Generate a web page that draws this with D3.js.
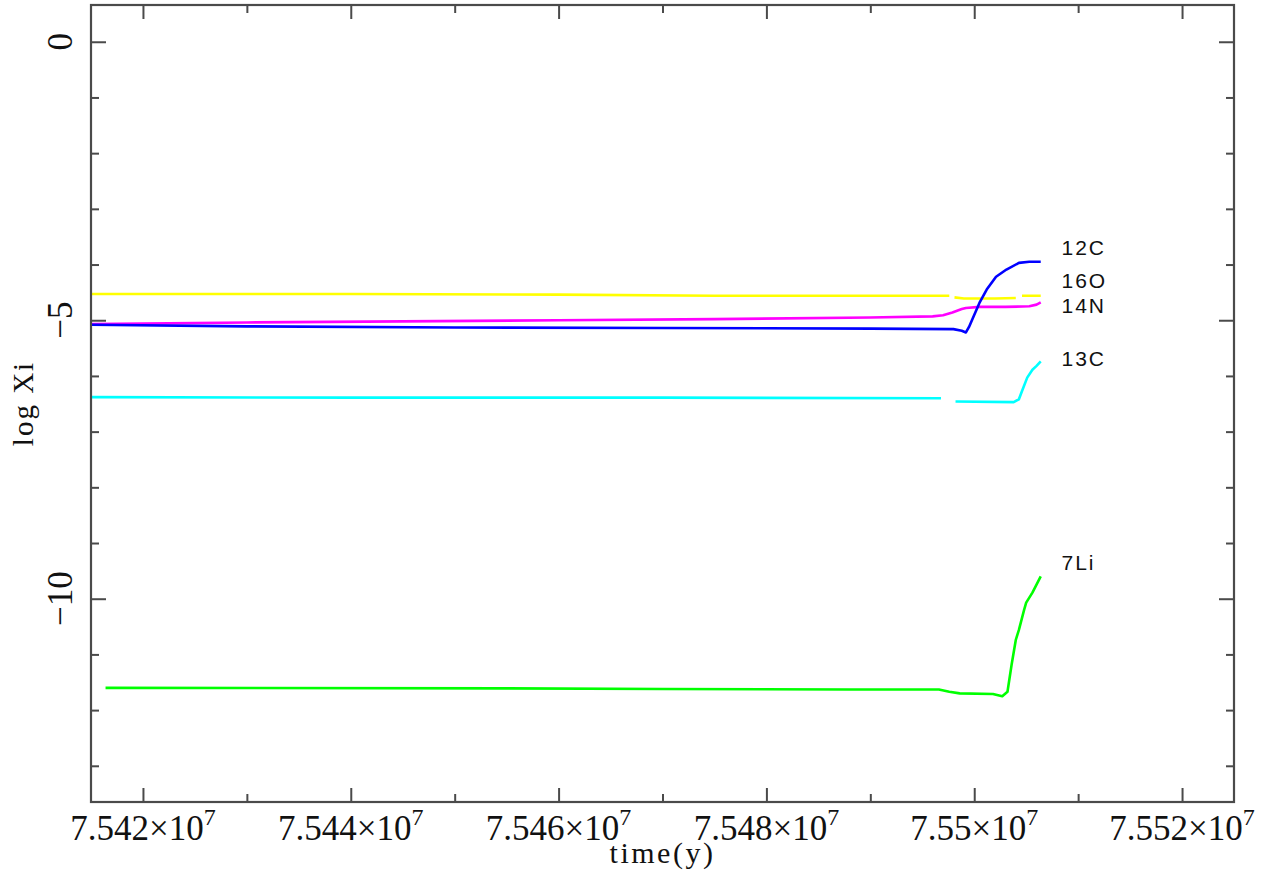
<!DOCTYPE html>
<html>
<head>
<meta charset="utf-8">
<script src="https://cdn.jsdelivr.net/npm/d3@7"></script>
<style>
  html, body { margin: 0; padding: 0; background: #fff; }
  svg { display: block; }
</style>
</head>
<body>
<svg id="chart" width="1273" height="875"></svg>
<script>
// ---------------- DATA ----------------
const xDomain = [75415000, 75525000];
const yDomain = [-13.65, 0.66];

const xMajorTicks = [75420000, 75440000, 75460000, 75480000, 75500000, 75520000];
const xTickMantissa = ["7.542", "7.544", "7.546", "7.548", "7.55", "7.552"];
const xTickExponent = "7";
const xMinorTicks = [75430000, 75450000, 75470000, 75490000, 75510000];
const yMajorTicks = [0, -5, -10];
const yTickLabels = ["0", "\u22125", "\u221210"];
const yMinorTicks = [-1, -2, -3, -4, -6, -7, -8, -9, -11, -12, -13];

const seriesNames = ["16O", "14N", "12C", "13C", "7Li"];
const seriesColors = ["#ffff00", "#ff00ff", "#0000ff", "#00ffff", "#00ff00"];

// 16O (yellow) — null marks a gap in the plotted line
const o16Time = [75415000, 75440000, 75460000, 75475000, 75497600, 75497850, 75498100, 75499000, 75502000, 75504000, 75504300, 75504600, 75506400];
const o16Val  = [-4.53, -4.53, -4.54, -4.56, -4.56, null, -4.59, -4.61, -4.61, -4.60, null, -4.56, -4.56];

// 14N (magenta)
const n14Time = [75415000, 75430000, 75445000, 75460000, 75475000, 75490000, 75496000, 75497000, 75497900, 75498800, 75499200, 75500500, 75503000, 75505300, 75506000, 75506400];
const n14Val  = [-5.07, -5.04, -5.02, -5.00, -4.98, -4.95, -4.93, -4.91, -4.86, -4.80, -4.78, -4.76, -4.76, -4.75, -4.72, -4.68];

// 12C (blue)
const c12Time = [75415000, 75430000, 75450000, 75470000, 75490000, 75498000, 75498800, 75499200, 75499500, 75499800, 75500500, 75501200, 75502100, 75503100, 75504300, 75505300, 75506400];
const c12Val  = [-5.08, -5.11, -5.13, -5.14, -5.15, -5.16, -5.19, -5.22, -5.12, -4.99, -4.69, -4.45, -4.22, -4.09, -3.97, -3.95, -3.95];

// 13C (cyan)
const c13Time = [75415000, 75440000, 75470000, 75496800, 75497500, 75498200, 75503800, 75504300, 75504600, 75505100, 75505600, 75506000, 75506400];
const c13Val  = [-6.38, -6.39, -6.39, -6.40, null, -6.46, -6.47, -6.42, -6.27, -6.03, -5.89, -5.82, -5.74];

// 7Li (green)
const li7Time = [75416400, 75455000, 75470000, 75488000, 75496600, 75497600, 75498600, 75501800, 75502700, 75503200, 75503600, 75504000, 75504300, 75504800, 75505000, 75505600, 75506400];
const li7Val  = [-11.60, -11.61, -11.62, -11.63, -11.63, -11.67, -11.70, -11.71, -11.75, -11.67, -11.18, -10.74, -10.56, -10.20, -10.07, -9.89, -9.60];

// label anchor (data units)
const labelTime = 75508400;
const labelVal = { "12C": -3.82, "16O": -4.42, "14N": -4.87, "13C": -5.83, "7Li": -9.48 };

// ---------------- DRAW ----------------
const svg = d3.select("#chart");
const L = 91, T = 5, R = 1234, B = 802;
const x = d3.scaleLinear().domain(xDomain).range([L, R]);
const y = d3.scaleLinear().domain(yDomain).range([B, T]);

const frameColor = "#4a4a4a";
const serif = "'Liberation Serif', 'DejaVu Serif', serif";

// series
const seriesTimes = [o16Time, n14Time, c12Time, c13Time, li7Time];
const seriesVals = [o16Val, n14Val, c12Val, c13Val, li7Val];
const line = d3.line()
  .defined(d => d[1] !== null)
  .x(d => x(d[0]))
  .y(d => y(d[1]));

const plot = svg.append("g");
seriesNames.forEach((name, i) => {
  const pts = seriesTimes[i].map((t, j) => [t, seriesVals[i][j]]);
  plot.append("path")
    .datum(pts)
    .attr("fill", "none")
    .attr("stroke", seriesColors[i])
    .attr("stroke-width", 2.6)
    .attr("stroke-linejoin", "round")
    .attr("d", line);
});

// labels
const lab = svg.append("g")
  .attr("font-family", "'Liberation Sans', Arial, sans-serif")
  .attr("font-size", 21)
  .attr("letter-spacing", 2)
  .attr("fill", "#111");
Object.keys(labelVal).forEach(k => {
  lab.append("text")
    .attr("x", x(labelTime))
    .attr("y", y(labelVal[k]))
    .text(k);
});

// frame
svg.append("rect")
  .attr("x", L).attr("y", T)
  .attr("width", R - L).attr("height", B - T)
  .attr("fill", "none")
  .attr("stroke", frameColor)
  .attr("stroke-width", 2.2);

// ticks (inward, mirrored on opposite sides) via d3 axes
function tickOnly(axisGen, transform, len) {
  const g = svg.append("g").attr("transform", transform)
    .call(axisGen.tickSize(len).tickFormat(""));
  g.select(".domain").remove();
  g.selectAll(".tick line").attr("stroke", frameColor).attr("stroke-width", 2);
  return g;
}
// bottom (inward = upward => axisTop at bottom)
tickOnly(d3.axisTop(x).tickValues(xMajorTicks), `translate(0,${B})`, 14);
tickOnly(d3.axisTop(x).tickValues(xMinorTicks), `translate(0,${B})`, 8);
// top
tickOnly(d3.axisBottom(x).tickValues(xMajorTicks), `translate(0,${T})`, 14);
tickOnly(d3.axisBottom(x).tickValues(xMinorTicks), `translate(0,${T})`, 8);
// left
tickOnly(d3.axisRight(y).tickValues(yMajorTicks), `translate(${L},0)`, 15);
tickOnly(d3.axisRight(y).tickValues(yMinorTicks), `translate(${L},0)`, 8);
// right
tickOnly(d3.axisLeft(y).tickValues(yMajorTicks), `translate(${R},0)`, 15);
tickOnly(d3.axisLeft(y).tickValues(yMinorTicks), `translate(${R},0)`, 8);

// x tick labels
const xl = svg.append("g").attr("font-family", serif).attr("fill", "#111");
xMajorTicks.forEach((t, i) => {
  const txt = xl.append("text")
    .attr("x", x(t))
    .attr("y", 840)
    .attr("text-anchor", "middle")
    .attr("font-size", 35);
  txt.append("tspan").text(xTickMantissa[i] + "\u00d710");
  txt.append("tspan").attr("font-size", 24).attr("dy", -15).text(xTickExponent);
});

// y tick labels (rotated)
const yl = svg.append("g").attr("font-family", serif).attr("fill", "#111");
yMajorTicks.forEach((v, i) => {
  yl.append("text")
    .attr("transform", `translate(72,${y(v)}) rotate(-90)`)
    .attr("text-anchor", "middle")
    .attr("font-size", 35)
    .text(yTickLabels[i]);
});

// axis titles
svg.append("text")
  .attr("x", (L + R) / 2)
  .attr("y", 863)
  .attr("text-anchor", "middle")
  .attr("font-family", serif)
  .attr("font-size", 30)
  .attr("letter-spacing", 2.5)
  .attr("fill", "#111")
  .text("time(y)");

svg.append("text")
  .attr("transform", `translate(33,${(T + B) / 2}) rotate(-90)`)
  .attr("text-anchor", "middle")
  .attr("font-family", serif)
  .attr("font-size", 29)
  .attr("letter-spacing", 2)
  .attr("fill", "#111")
  .text("log Xi");
</script>
</body>
</html>
